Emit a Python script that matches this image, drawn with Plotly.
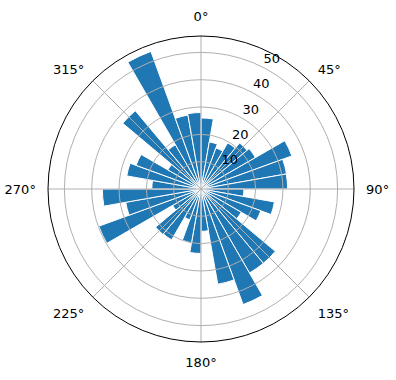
import plotly.graph_objects as go

# bin centres (degrees, clockwise from north) and counts
directions = [5, 15, 25, 35, 45, 55, 65, 75, 85,
              95, 105, 115, 125, 135, 145, 155, 165, 175,
              185, 195, 205, 215, 225, 235, 245, 255, 265,
              275, 285, 295, 305, 315, 325, 335, 345, 355]
counts = [26, 17.5, 16, 19.5, 22, 23, 35.4, 31.8, 31.7,
          15.7, 27.3, 23.3, 17, 35.5, 35.5, 45, 35.4, 15.5,
          23.6, 20, 12, 21.5, 21.7, 12, 39.8, 28, 36.1,
          18, 27.6, 25.3, 14, 37.4, 18.7, 53.6, 27.5, 28]
bin_width = 10
radial_ticks = [10, 20, 30, 40, 50]
radial_labels = [str(t) for t in radial_ticks]
angle_ticks = [0, 45, 90, 135, 180, 225, 270, 315]
angle_labels = [f"{a}°" for a in angle_ticks]
r_max = 56
label_pad = 3.5   # radial text sits slightly outside its ring, as in the reference

fig = go.Figure()
fig.add_trace(go.Barpolar(
    r=counts, theta=directions, width=[bin_width] * len(directions),
    marker=dict(color="#1f77b4", line=dict(color="white", width=1)),
    subplot="polar",
))
# invisible traces so that the overlay subplots (grid, labels) are drawn
for sp in ("polar2", "polar3"):
    fig.add_trace(go.Scatterpolar(
        r=[0], theta=[0], mode="markers", marker=dict(opacity=0),
        hoverinfo="skip", subplot=sp,
    ))

common_ang = dict(rotation=90, direction="clockwise")
full = dict(x=[0, 1], y=[0, 1])
hidden_ang = dict(**common_ang, showgrid=False, showline=False,
                  showticklabels=False, ticks="")
fig.update_layout(
    width=396, height=380,
    margin=dict(l=48, r=42, t=36, b=38),
    paper_bgcolor="white",
    showlegend=False,
    font=dict(family="DejaVu Sans", size=13, color="black"),
    polar=dict(
        domain=full,
        bgcolor="white",
        bargap=0,
        angularaxis=hidden_ang,
        radialaxis=dict(range=[0, r_max], showgrid=False, showline=False,
                        showticklabels=False, ticks=""),
    ),
    polar2=dict(
        domain=full,
        bgcolor="rgba(0,0,0,0)",
        angularaxis=dict(
            **common_ang,
            tickmode="array", tickvals=angle_ticks, ticktext=angle_labels,
            showgrid=True, gridcolor="#b0b0b0", gridwidth=1,
            showline=True, linecolor="black", linewidth=1,
            ticks="outside", ticklen=9, tickcolor="rgba(0,0,0,0)",
        ),
        radialaxis=dict(
            range=[0, r_max], tickmode="array", tickvals=radial_ticks,
            showgrid=True, gridcolor="#b0b0b0", gridwidth=1,
            showticklabels=False, showline=False, ticks="",
        ),
    ),
    polar3=dict(
        domain=full,
        bgcolor="rgba(0,0,0,0)",
        angularaxis=hidden_ang,
        radialaxis=dict(
            range=[0, r_max], tickmode="array",
            tickvals=[t + label_pad for t in radial_ticks],
            ticktext=radial_labels,
            angle=67.5, tickangle=67.5,
            showgrid=False, showline=False, ticks="",
        ),
    ),
)

fig.write_html("out.html")
